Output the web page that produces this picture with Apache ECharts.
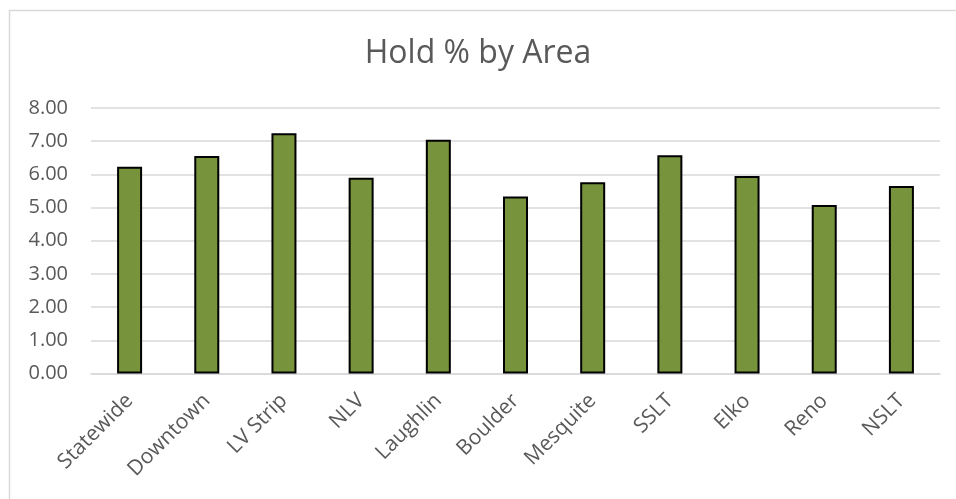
<!DOCTYPE html>
<html>
<head>
<meta charset="utf-8">
<script src="https://cdn.jsdelivr.net/npm/echarts@6/dist/echarts.min.js"></script>
<style>
html,body{margin:0;padding:0;background:#fff;}
#chart{width:956px;height:499px;}
</style>
</head>
<body>
<div id="chart"></div>
<script>
const categories = ["Statewide","Downtown","LV Strip","NLV","Laughlin","Boulder","Mesquite","SSLT","Elko","Reno","NSLT"];
const holdValues = [6.23, 6.55, 7.24, 5.90, 7.04, 5.33, 5.76, 6.58, 5.95, 5.08, 5.65];
const yTicks = { min: 0, max: 8, interval: 1 };

const chart = echarts.init(document.getElementById('chart'), null, {renderer:'canvas'});
const FONT = '"Open Sans", "Segoe UI", sans-serif';
chart.setOption({
  animation: false,
  backgroundColor: '#ffffff',
  title: {
    text: 'Hold % by Area',
    left: 'center',
    top: 33,
    textStyle: { fontFamily: FONT, fontSize: 32, fontWeight: 'normal', color: '#595959' }
  },
  graphic: [{
    type: 'rect',
    shape: { x: 9.5, y: 10.5, width: 960, height: 500 },
    style: { fill: 'none', stroke: '#d9d9d9', lineWidth: 1.5 },
    silent: true
  }],
  grid: { left: 91, right: 16, top: 108, bottom: 125.5, containLabel: false },
  xAxis: {
    type: 'category',
    data: categories,
    axisLine: { show: true, lineStyle: { color: '#d9d9d9', width: 1.5 } },
    axisTick: { show: false },
    axisLabel: {
      rotate: 45,
      interval: 0,
      margin: 24,
      fontFamily: FONT,
      fontSize: 21,
      color: '#595959'
    }
  },
  yAxis: {
    type: 'value',
    min: yTicks.min,
    max: yTicks.max,
    interval: yTicks.interval,
    axisLine: { show: false },
    axisTick: { show: false },
    splitLine: { lineStyle: { color: '#d9d9d9', width: 1.5 } },
    axisLabel: {
      margin: 23,
      fontFamily: FONT,
      fontSize: 20,
      color: '#595959',
      formatter: v => v.toFixed(2)
    }
  },
  series: [{
    type: 'bar',
    data: holdValues,
    barWidth: 25,
    itemStyle: { color: '#77933c', borderColor: '#000000', borderWidth: 2 }
  }]
});
</script>
</body>
</html>
